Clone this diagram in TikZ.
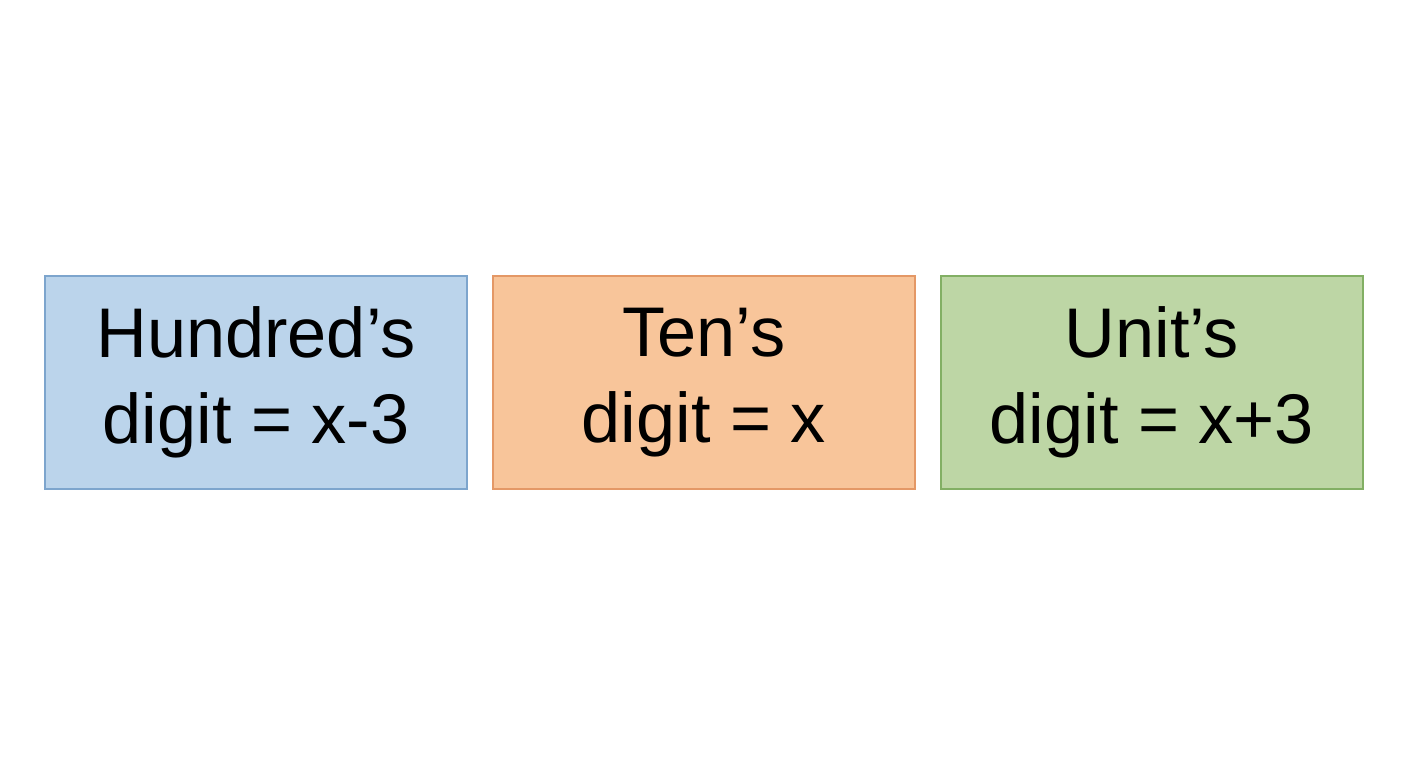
\documentclass[tikz,border=0pt]{standalone}
\usepackage{fontspec}
\setmainfont{Liberation Sans}
\usetikzlibrary{positioning}

\definecolor{hundredfill}{RGB}{187,212,235}
\definecolor{hundredline}{RGB}{125,165,205}
\definecolor{tenfill}{RGB}{248,197,154}
\definecolor{tenline}{RGB}{228,152,102}
\definecolor{unitfill}{RGB}{189,214,165}
\definecolor{unitline}{RGB}{130,175,100}

\tikzset{
  digitbox/.style={draw, line width=0.8pt, minimum width=8.44cm, minimum height=4.26cm,
    align=center, inner sep=0pt,
    font=\fontsize{40}{49}\selectfont}
}

\begin{document}
\begin{tikzpicture}
\useasboundingbox (0,0) rectangle (28.16,15.36);

% three digit boxes
\node[digitbox, fill=hundredfill, draw=hundredline] (hundred) at (5.12,7.71) {Hundred’s\\digit = x-3};
\node[digitbox, fill=tenfill, draw=tenline, right=0.49cm of hundred] (ten) {Ten’s\\digit = x};
\node[digitbox, fill=unitfill, draw=unitline, right=0.49cm of ten] (unit) {Unit’s\\digit = x+3};
\end{tikzpicture}
\end{document}
